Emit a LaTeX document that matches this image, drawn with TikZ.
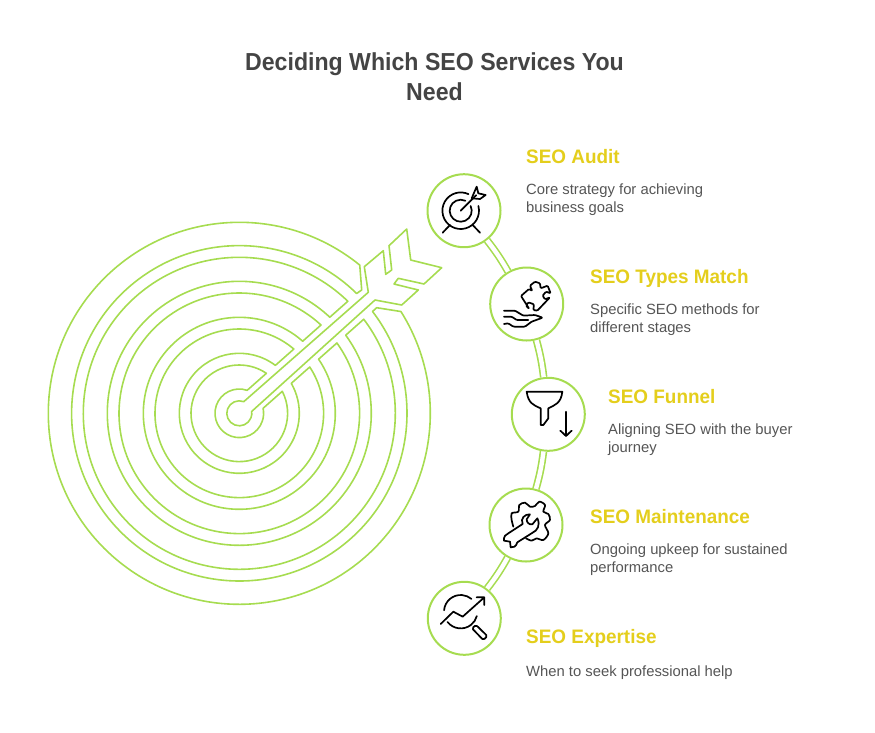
\documentclass[tikz,border=0pt]{standalone}
\usepackage{fontspec}
\setmainfont{Liberation Sans}
\newfontfamily\titlefont[FakeStretch=0.94]{Liberation Sans}
\newfontfamily\headfont[FakeStretch=0.97]{Liberation Sans}
\usepackage{xcolor}
\definecolor{ringgreen}{HTML}{A6DC50}
\definecolor{headyellow}{HTML}{E4CE1C}
\definecolor{titlegray}{HTML}{444444}
\definecolor{bodygray}{HTML}{555555}
\begin{document}
\begin{tikzpicture}[x=1pt,y=-1pt,
  ring/.style={draw=ringgreen,line width=1.6pt,line join=round},
  main node/.style={circle,draw=ringgreen,line width=2pt,fill=white,minimum size=73pt,inner sep=0pt},
  link/.style={draw=ringgreen,line width=1.6pt,double=white,double distance=4.4pt},
  icon/.style={draw=black,line width=1.7pt,line cap=round,line join=round},
  title node/.style={text=titlegray,font=\titlefont\fontsize{24.6}{30}\bfseries\selectfont,align=center,inner sep=0pt},
  head node/.style={text=headyellow,font=\headfont\fontsize{19.5}{24}\bfseries\selectfont,anchor=base west,inner sep=0pt},
  body node/.style={text=bodygray,font=\fontsize{14.8}{18}\selectfont,anchor=base west,align=left,inner sep=0pt}]
\useasboundingbox (0,0) rectangle (875,732);
\node[title node] (title) at (434.5,77) {Deciding Which SEO Services You\\Need};
% target
\begin{scope}[shift={(239.3,413.3)},y=1pt]
\foreach \rin/\rout in {24.3/48.3,60/84.3,96/120.3,132/156}{
  \pgfmathsetmacro\ain{asin(12/\rin)}
  \pgfmathsetmacro\aout{asin(12/\rout)}
  \draw[ring] (41.5+\ain:\rin) arc[start angle=41.5+\ain,end angle=401.5-\ain,radius=\rin pt]
    -- (41.5-\aout:\rout) arc[start angle=41.5-\aout,end angle=-318.5+\aout,radius=\rout pt] -- cycle;
}
\draw[ring] (50.9:191) arc[start angle=50.9,end angle=392.2,radius=191pt] -- (137.4,105.6)
  -- (37.4:167.7) arc[start angle=37.4,end angle=-314.4,radius=167.7pt] -- (122.4,123.3) -- cycle;
\draw[ring] (69:12.5) arc[start angle=69,end angle=368.5,radius=12.5pt]
  -- (135.7,113.3) -- (162.4,108.3) -- (179,123.3) -- (154.7,129.3) -- (159,135) -- (184.7,129.3)
  -- (202.4,145.6) -- (171.4,153.3) -- (167.4,184.3) -- (149.7,167.6) -- (152.4,143.3)
  -- (146.4,139) -- (144,162.6) -- (125,146.6) -- (129,121) -- cycle;
\end{scope}
% circles
\node[main node] (audit) at (464,210.7) {};
\node[main node] (types) at (526.7,304) {};
\node[main node] (funnel) at (548.3,414.3) {};
\node[main node] (maint) at (526,525) {};
\node[main node] (expert) at (464.3,618.3) {};
\draw[link] (audit) to[bend left=4] (types);
\draw[link] (types) to[bend left=4] (funnel);
\draw[link] (funnel) to[bend left=4] (maint);
\draw[link] (maint) to[bend left=4] (expert);
% texts
\node[head node] (h1) at (526,163) {SEO Audit};
\node[body node] (b1) at (526,212) {Core strategy for achieving\\business goals};
\node[head node] (h2) at (590,283) {SEO Types Match};
\node[body node] (b2) at (590,332) {Specific SEO methods for\\different stages};
\node[head node] (h3) at (608,403) {SEO Funnel};
\node[body node] (b3) at (608,452) {Aligning SEO with the buyer\\journey};
\node[head node] (h4) at (590,523) {SEO Maintenance};
\node[body node] (b4) at (590,572) {Ongoing upkeep for sustained\\performance};
\node[head node] (h5) at (526,643) {SEO Expertise};
\node[body node] (b5) at (526,676) {When to seek professional help};
% icon target
\begin{scope}[shift={(460.7,210.7)},y=1pt]
\draw[icon] (15:18.3) arc[start angle=15,end angle=-295,radius=18.3pt];
\draw[icon] (25:11) arc[start angle=25,end angle=-295,radius=11pt];
\draw[icon] (0,0) -- (45:22);
\end{scope}
\begin{scope}[shift={(420,165)},scale=0.3333]
\draw[icon] (155,100) -- (170,65) -- (175,85) -- (197,90) -- (180,102) -- (155,100);
\draw[icon] (68,203) -- (90,180) (180,203) -- (158,180);
% icon puzzle and hand
\draw[icon,rounded corners=1pt] (303,393) -- (327,372) -- (337,378) -- (330,362) -- (345,350) -- (360,355) -- (362,370)
  -- (383,362) -- (392,385) -- (378,380) -- (368,392) -- (375,403) -- (390,397) -- (352,437) -- (340,435)
  -- (342,418) -- (325,412) -- (318,422) -- (328,432) -- cycle;
\draw[icon,rounded corners=1pt] (252,437) -- (285,437) -- (310,452) -- (345,450) -- (368,458) -- (335,470) -- (315,485)
  -- (280,485) -- (265,475) -- (252,477);
\draw[icon,rounded corners=1pt] (252,455) -- (275,455) -- (290,465) -- (325,465);
\end{scope}
% icon funnel
\begin{scope}[shift={(480,370)},scale=0.3333]
\draw[icon] (140,65) -- (247,65) .. controls (243,100) and (225,105) .. (205,115) -- (205,145) -- (190,165) -- (182,165)
  -- (182,115) .. controls (160,105) and (145,100) .. (140,65) -- cycle;
\draw[icon] (258,125) -- (258,198) (241,182) -- (258,198) -- (275,182);
% icon gear and wrench
\draw[icon] plot[smooth,tension=0.55] coordinates {(100,470) (95,450) (95,430) (115,425) (118,405) (135,398) (150,410) (165,408) (178,395) (195,405) (190,425) (205,432) (210,450) (195,465) (205,490) (190,510) (170,505) (155,512) (138,505)};
\draw[icon] (85,490) -- (128,462) .. controls (120,445) and (135,432) .. (150,433) -- (140,448)
  .. controls (140,458) and (148,465) .. (157,463) -- (172,445) .. controls (182,465) and (172,482) .. (158,488)
  -- (112,517) .. controls (108,530) and (100,534) .. (92,532) -- (90,515) -- (72,512) .. controls (70,500) and (78,492) .. cycle;
\end{scope}
% icon chart and lens
\begin{scope}[shift={(460.7,611.7)},y=1pt]
\draw[icon] (175:16.7) arc[start angle=175,end angle=50,radius=16.7pt];
\draw[icon] (218:16.7) arc[start angle=218,end angle=345,radius=16.7pt];
\end{scope}
\begin{scope}[shift={(420,570)},scale=0.3333]
\draw[icon] (62,162) -- (100,125) -- (128,140) -- (193,82) (170,82) -- (193,82) -- (193,105);
\draw[icon,rounded corners=1.5pt] (168,165) -- (202,198) -- (190,210) -- (156,175) -- cycle;
\end{scope}
\end{tikzpicture}
\end{document}
